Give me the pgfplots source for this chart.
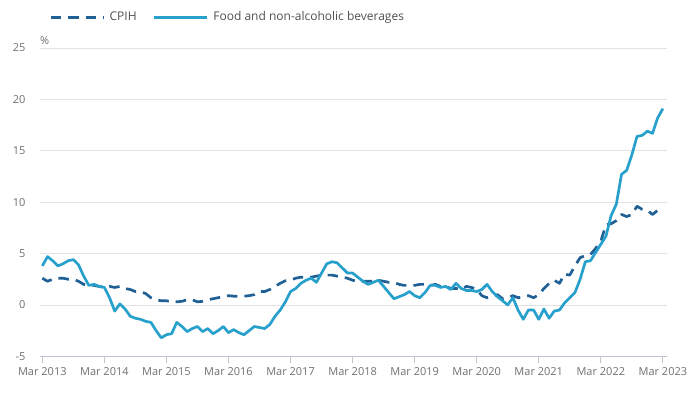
\documentclass[border=0pt]{standalone}
\usepackage{pgfplots}
\usepackage{pgfplotstable}
\pgfplotsset{compat=1.18}
\usepackage{fontspec}
\setmainfont{Open Sans}
\definecolor{cpih}{HTML}{206095}
\definecolor{food}{HTML}{27A0CC}
\definecolor{gridc}{HTML}{E2E2E3}
\definecolor{axisc}{HTML}{BEC5D0}
\definecolor{tickc}{HTML}{707071}
\definecolor{legc}{HTML}{505052}
\pgfplotstableread{
i cpih food
0 2.6 3.8
1 2.3 4.7
2 2.5 4.3
3 2.6 3.8
4 2.6 4.0
5 2.5 4.3
6 2.5 4.4
7 2.3 3.9
8 2.0 2.8
9 1.9 1.9
10 1.9 2.0
11 1.8 1.8
12 1.7 1.7
13 1.8 0.7
14 1.7 -0.6
15 1.8 0.1
16 1.6 -0.4
17 1.5 -1.1
18 1.3 -1.3
19 1.3 -1.4
20 1.1 -1.6
21 0.7 -1.7
22 0.5 -2.5
23 0.4 -3.2
24 0.4 -2.9
25 0.3 -2.8
26 0.3 -1.7
27 0.35 -2.1
28 0.5 -2.6
29 0.5 -2.3
30 0.3 -2.1
31 0.35 -2.6
32 0.5 -2.3
33 0.6 -2.8
34 0.7 -2.5
35 0.8 -2.1
36 0.9 -2.7
37 0.85 -2.4
38 0.85 -2.7
39 0.85 -2.9
40 0.9 -2.5
41 1.0 -2.1
42 1.3 -2.2
43 1.3 -2.3
44 1.5 -1.9
45 1.8 -1.1
46 2.1 -0.5
47 2.35 0.3
48 2.4 1.3
49 2.6 1.6
50 2.7 2.1
51 2.7 2.4
52 2.7 2.6
53 2.8 2.2
54 2.9 3.1
55 2.9 4.0
56 2.9 4.2
57 2.8 4.1
58 2.7 3.6
59 2.6 3.1
60 2.4 3.1
61 2.3 2.7
62 2.3 2.3
63 2.3 2.0
64 2.3 2.2
65 2.4 2.4
66 2.3 1.8
67 2.2 1.2
68 2.2 0.6
69 2.0 0.8
70 1.9 1.0
71 1.9 1.3
72 1.9 0.9
73 2.0 0.7
74 2.0 1.2
75 1.9 1.9
76 2.0 1.9
77 1.8 1.7
78 1.8 1.8
79 1.6 1.5
80 1.6 2.1
81 1.5 1.6
82 1.8 1.4
83 1.7 1.4
84 1.5 1.3
85 0.9 1.5
86 0.7 2.0
87 0.8 1.3
88 1.0 0.8
89 0.6 0.4
90 0.7 0.0
91 0.9 0.7
92 0.7 -0.5
93 0.8 -1.4
94 0.9 -0.5
95 0.7 -0.5
96 1.0 -1.4
97 1.6 -0.4
98 2.1 -1.3
99 2.4 -0.6
100 2.1 -0.5
101 3.0 0.2
102 2.9 0.7
103 3.8 1.2
104 4.6 2.5
105 4.8 4.2
106 4.9 4.3
107 5.5 5.1
108 6.2 5.9
109 7.8 6.7
110 7.9 8.7
111 8.2 9.8
112 8.8 12.7
113 8.6 13.1
114 8.8 14.6
115 9.6 16.4
116 9.3 16.5
117 9.2 16.9
118 8.8 16.7
119 9.2 18.2
120 8.9 19.1
}\datatable
\begin{document}
\begin{tikzpicture}
\useasboundingbox (0,0) rectangle (696bp,396bp);
\begin{axis}[
  at={(40bp,39.7bp)}, anchor=south west,
  scale only axis, width=627bp, height=308.3bp,
  clip mode=individual,
  xmin=-0.45, xmax=120.8, ymin=-5, ymax=25,
  ytick={-5,0,5,10,15,20,25},
  xtick={0,12,...,120},
  xticklabels={Mar 2013,Mar 2014,Mar 2015,Mar 2016,Mar 2017,Mar 2018,Mar 2019,Mar 2020,Mar 2021,Mar 2022,Mar 2023},
  xtick pos=bottom, tick align=outside, major tick length=7bp,
  xtick style={draw=axisc, line width=0.8bp},
  ytick style={draw=none},
  ymajorgrids, grid style={draw=gridc, line width=0.8bp},
  axis line style={draw=none},
  tick label style={font=\fontsize{11bp}{13bp}\selectfont, text=tickc},
  xticklabel style={yshift=-1bp},
  yticklabel style={xshift=-4bp},
  /pgf/number format/assume math mode=true,
  legend columns=2,
  legend style={at={(axis description cs:0.01,1.1)}, anchor=west, draw=none, fill=none,
    font=\fontsize{12bp}{14bp}\selectfont, text=legc,
    /tikz/every even column/.append style={column sep=12bp},
    nodes={inner xsep=4.5bp}},
  legend image code/.code={\draw[#1] (0bp,0bp) -- (53bp,0bp);},
]
\draw[axisc, line width=0.8bp] (rel axis cs:0,0) -- (rel axis cs:1,0);
\addplot[cpih, line width=2.7bp, dash pattern=on 10.5bp off 7bp, line join=round] table[x=i,y=cpih]{\datatable};
\addlegendentry{CPIH}
\addplot[food, line width=2.7bp, line join=round] table[x=i,y=food]{\datatable};
\addlegendentry{Food and non-alcoholic beverages}
\node[anchor=south west, inner sep=0pt, font=\fontsize{11bp}{13bp}\selectfont, text=tickc] at (rel axis cs:0,1) [yshift=3bp] {\%};
\end{axis}
\end{tikzpicture}
\end{document}
